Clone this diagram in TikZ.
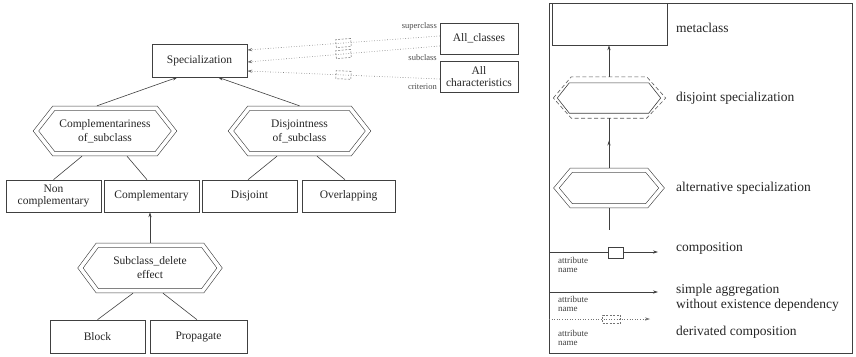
\documentclass[tikz,border=0pt]{standalone}
\usepackage{fontspec}
\setmainfont{Liberation Serif}
\usetikzlibrary{arrows.meta,calc,decorations.markings}
\newcommand\bxf{\fontsize{11.5}{14}\selectfont}
\newcommand\lgf{\fontsize{13.5}{15}\selectfont}
\newcommand\smf{\fontsize{9}{9.5}\selectfont}
\newcommand\tnf{\fontsize{8.5}{9}\selectfont}
% double-lined hexagon around a node: name, tip length
\newcommand\dblhex[2]{%
  \draw[hexline,double=white,double distance=3.6pt]
    ($(#1.north west)+(#2,2.4)$) -- ($(#1.north east)+(-#2,2.4)$) --
    ($(#1.east)+(-3.1,0)$) -- ($(#1.south east)+(-#2,-2.4)$) --
    ($(#1.south west)+(#2,-2.4)$) -- ($(#1.west)+(3.1,0)$) -- cycle;}
\begin{document}
\begin{tikzpicture}[x=1pt,y=-1pt,
  every node/.style={text=black!85},
  line/.style={draw=black!75,line width=0.6pt},
  hexline/.style={draw=black!75,line width=0.6pt},
  arr/.style={line,-{Stealth[length=5pt,width=3.2pt]}},
  dotl/.style={draw=black!55,line width=0.6pt,dotted,-{Stealth[length=5pt,width=3.2pt]}},
  box/.style={line,rectangle,inner sep=0pt,minimum width=#1,minimum height=32pt,align=center,font=\bxf},
  box/.default=95pt,
  hexnode/.style={inner sep=0pt,minimum width=#1,minimum height=50pt,align=center,font=\bxf},
  hexnode/.default=144pt,
  dbox/.style={draw=black!55,line width=0.5pt,dashed,dash pattern=on 2pt off 1.5pt,rectangle,inner sep=0pt,minimum width=15pt,minimum height=8pt},
  tlab/.style={font=\tnf,anchor=east,inner sep=0pt,text=black!70},
  attr/.style={font=\smf,anchor=west,align=left,inner sep=0pt,text=black!75},
  lg/.style={font=\lgf,anchor=west,align=left,inner sep=0pt}
]
\useasboundingbox[fill=white] (0,0) rectangle (856,356);

% ---------------- left diagram ----------------
\node[box,minimum height=33pt] (spec) at (199.5,60.5) {Specialization};
\node[box=78pt,minimum height=31pt] (allc) at (479,38.5) {All\_classes};
\node[box=78pt,minimum height=31pt] (allch) at (479,76.5) {All\\[-2pt]characteristics};

\node[tlab] (lsup) at (437,26) {superclass};
\node[tlab] (lsub) at (437,58) {subclass};
\node[tlab] (lcri) at (437,87) {criterion};

\draw[dotl] ($(allc.west)+(0,-2.5)$) -- node[dbox,sloped,pos=0.5] (db1) {} ($(spec.east)+(0,-10.5)$);
\draw[dotl] ($(allc.west)+(0,7.5)$) -- node[dbox,sloped,pos=0.5] (db2) {} ($(spec.east)+(0,1.5)$);
\draw[dotl] ($(allch.west)+(0,2.5)$) -- node[dbox,sloped,pos=0.5] (db3) {} ($(spec.east)+(0,10.5)$);

\node[hexnode] (comp) at (105,131) {Complementariness\\of\_subclass};
\dblhex{comp}{21}
\node[hexnode=143pt] (disj) at (299.5,131) {Disjointness\\of\_subclass};
\dblhex{disj}{21}

\draw[arr] ($(comp.north)+(-8,0)$) -- ($(spec.south)+(-22,0)$);
\draw[arr] (disj.north) -- ($(spec.south)+(18.5,0)$);

\node[box] (ncomp) at (53.5,196) {Non\\[-2pt]complementary};
\node[box] (compl) at (151.5,196) {Complementary};
\node[box] (disjt) at (249.5,196) {Disjoint};
\node[box=93pt] (overl) at (348.5,196) {Overlapping};

\draw[line] ($(comp.south)+(-23,0)$) -- (ncomp.north);
\draw[line] ($(comp.south)+(22,0)$) -- ($(compl.north)+(-4.5,0)$);
\draw[line] ($(disj.south)+(-22.5,0)$) -- ($(disjt.north)+(-1.5,0)$);
\draw[line] ($(disj.south)+(17.5,0)$) -- ($(overl.north)+(-3.5,0)$);

\node[hexnode=145pt] (sub) at (150,268) {Subclass\_delete\\effect};
\dblhex{sub}{20}
\draw[arr] (sub.north) -- (sub.north |- compl.south);

\node[box,minimum height=33pt] (block) at (97.5,336.5) {Block};
\node[box=97pt,minimum height=33pt] (prop) at (198.5,336.5) {Propagate};
\draw[line] ($(sub.south)+(-17,0)$) -- (block.north);
\draw[line] ($(sub.south)+(13,0)$) -- ($(prop.north)+(-1.5,0)$);

% ---------------- legend ----------------
\draw[line] (549,3) rectangle (852,353);
\node[box=115pt,minimum height=42pt] (meta) at (609.5,24) {};
\node[lg] (tmeta) at (676,28) {metaclass};

\node[inner sep=0pt,minimum width=103pt,minimum height=30pt] (dsp) at (609,98) {};
\draw[line] (dsp.west) -- ($(dsp.north west)+(12,0)$) -- ($(dsp.north east)+(-12,0)$) --
  (dsp.east) -- ($(dsp.south east)+(-12,0)$) -- ($(dsp.south west)+(12,0)$) -- cycle;
\draw[draw=black!65,line width=0.6pt,dash pattern=on 4pt off 2.5pt]
  ($(dsp.west)+(-4,0)$) -- ($(dsp.north west)+(14,-6)$) -- ($(dsp.north east)+(-14,-6)$) --
  ($(dsp.east)+(5,0)$) -- ($(dsp.south east)+(-14,5)$) -- ($(dsp.south west)+(14,5)$) -- cycle;
\node[lg] (tdsp) at (676,98) {disjoint specialization};
\draw[arr] ($(dsp.north)+(0,-6)$) -- (dsp.north |- meta.south);

\node[inner sep=0pt,minimum width=111pt,minimum height=40pt] (alt) at (609,188) {};
\dblhex{alt}{18}
\node[lg] (talt) at (676,188) {alternative specialization};
\draw[line,postaction={decorate},decoration={markings,mark=at position 0.55 with {\arrow{Stealth[length=5pt,width=3.2pt]}}}]
  (alt.north) -- ($(dsp.south)+(0,5)$);
\coordinate (stub) at (609,230);
\draw[line] (alt.south) -- (stub);

% composition
\coordinate (c1) at (549,252);
\coordinate (c2) at (658,252);
\node[line,rectangle,inner sep=0pt,minimum width=15pt,minimum height=11pt] (cbox) at (615.5,253) {};
\draw[line] (c1) -- (c1 -| cbox.west);
\draw[arr] (c2 -| cbox.east) -- (c2);
\node[attr] (a1) at (558,265) {attribute\\name};
\node[lg] (tcomp) at (676,248) {composition};

% simple aggregation
\coordinate (s1) at (549,292);
\coordinate (s2) at (658,292);
\draw[arr] (s1) -- (s2);
\node[attr] (a2) at (558,304) {attribute\\name};
\node[lg] (tsimp) at (676,298) {simple aggregation\\without existence dependency};

% derivated composition
\coordinate (d1) at (549,319);
\coordinate (d2) at (650,319);
\draw[dotl] (d1) -- node[dbox,pos=0.62,minimum width=18pt] (dbox) {} (d2);
\node[attr] (a3) at (558,338) {attribute\\name};
\node[lg] (tder) at (676,332) {derivated composition};
\end{tikzpicture}
\end{document}
